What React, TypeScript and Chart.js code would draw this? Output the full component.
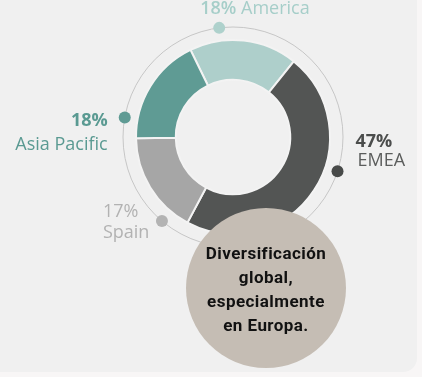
import React, { useEffect, useRef } from "react";
import { Chart, registerables } from "chart.js";

Chart.register(...registerables);

// ---- data ----
const regions = ["America", "EMEA", "Spain", "Asia Pacific"];
const shares = [18, 47, 17, 18];
const shareLabels = ["18%", "47%", "17%", "18%"];
const noteLines = ["Diversificación", "global,", "especialmente", "en Europa."];

// ---- styles / layout ----
const sliceColors = ["#aecfcb", "#535554", "#a6a6a6", "#5f9b94"];
const dotColors = ["#aed1cc", "#484a49", "#b3b3b3", "#5f9b94"];
const valueColors = ["#a6cec9", "#4b4d4c", "#b2b2b2", "#5a9a92"];
const nameColors = ["#a6cec9", "#5b5d5c", "#b2b2b2", "#5a9a92"];
const valueWeights = [600, 700, 400, 700];
type LabelPos = { frac: number; align: CanvasTextAlign; inline?: boolean; dx: number; vy: number; ndx: number; ny: number };
const labelLayout: LabelPos[] = [
  { frac: 0.29, align: "left", inline: true, dx: -19, vy: -14, ndx: -19, ny: -14 },
  { frac: 0.41, align: "left", dx: 18, vy: -24, ndx: 20, ny: -5 },
  { frac: 0.2, align: "left", dx: -59, vy: -4, ndx: -59, ny: 17 },
  { frac: 0.17, align: "right", dx: -17, vy: 9, ndx: -17, ny: 33 },
];
const RING_GAP = 13;
const FONT = '"Open Sans", "DejaVu Sans", sans-serif';

const ringPlugin = {
  id: "ringLabels",
  beforeDatasetsDraw(chart: any) {
    const el = chart.getDatasetMeta(0).data[0];
    if (!el) return;
    const { x, y, outerRadius } = el.getProps(["x", "y", "outerRadius"], true);
    const ctx = chart.ctx;
    ctx.save();
    ctx.beginPath();
    ctx.arc(x, y, outerRadius + RING_GAP, 0, Math.PI * 2);
    ctx.strokeStyle = "#c6c6c6";
    ctx.lineWidth = 1;
    ctx.stroke();
    ctx.restore();
  },
  afterDatasetsDraw(chart: any) {
    const ctx = chart.ctx;
    const meta = chart.getDatasetMeta(0);
    meta.data.forEach((el: any, i: number) => {
      const { x, y, startAngle, endAngle, outerRadius } = el.getProps(
        ["x", "y", "startAngle", "endAngle", "outerRadius"],
        true
      );
      const L = labelLayout[i];
      const r = outerRadius + RING_GAP;
      const a = startAngle + (endAngle - startAngle) * L.frac;
      const px = x + r * Math.cos(a);
      const py = y + r * Math.sin(a);
      ctx.save();
      ctx.beginPath();
      ctx.arc(px, py, 6, 0, Math.PI * 2);
      ctx.fillStyle = dotColors[i];
      ctx.fill();

      ctx.textBaseline = "alphabetic";
      const valueFont = `${valueWeights[i]} 18px ${FONT}`;
      const nameFont = `400 18px ${FONT}`;
      if (L.inline) {
        ctx.textAlign = "left";
        ctx.font = valueFont;
        ctx.fillStyle = valueColors[i];
        const vx = px + L.dx;
        ctx.fillText(shareLabels[i], vx, py + L.vy);
        const w = ctx.measureText(shareLabels[i] + " ").width;
        ctx.font = nameFont;
        ctx.fillStyle = nameColors[i];
        ctx.fillText(regions[i], vx + w, py + L.ny);
      } else {
        ctx.textAlign = L.align;
        ctx.font = valueFont;
        ctx.fillStyle = valueColors[i];
        ctx.fillText(shareLabels[i], px + L.dx, py + L.vy);
        ctx.font = nameFont;
        ctx.fillStyle = nameColors[i];
        ctx.fillText(regions[i], px + L.ndx, py + L.ny);
      }
      ctx.restore();
    });
  },
};

export default function App() {
  const canvasRef = useRef<HTMLCanvasElement | null>(null);

  useEffect(() => {
    const canvas = canvasRef.current;
    if (!canvas) return;
    const chart = new Chart(canvas, {
      type: "doughnut",
      data: {
        labels: regions,
        datasets: [
          {
            data: shares,
            backgroundColor: sliceColors,
            borderColor: "#f3f3f3",
            borderWidth: 2,
            hoverOffset: 0,
          },
        ],
      },
      options: {
        responsive: false,
        animation: false,
        events: [],
        rotation: -26,
        cutout: "59%",
        radius: 97,
        layout: { padding: { left: 136, right: 92, top: 40, bottom: 143 } },
        plugins: {
          legend: { display: false },
          tooltip: { enabled: false },
        },
      },
      plugins: [ringPlugin],
    });
    return () => chart.destroy();
  }, []);

  return (
    <div
      style={{
        position: "fixed",
        left: 0,
        top: 0,
        width: 422,
        height: 377,
        overflow: "hidden",
        background: "#f8f6f6",
      }}
    >
      <div
        style={{
          position: "absolute",
          left: -14,
          top: -14,
          width: 431,
          height: 386,
          borderRadius: 14,
          background: "#f0f0f0",
        }}
      />
      <canvas
        ref={canvasRef}
        width={422}
        height={377}
        style={{ position: "absolute", left: 0, top: 0, width: 422, height: 377 }}
      />
      <div
        style={{
          position: "absolute",
          left: 186,
          top: 208,
          width: 160,
          height: 160,
          borderRadius: "50%",
          background: "#c5bdb4",
          display: "flex",
          alignItems: "center",
          justifyContent: "center",
          flexDirection: "column",
          textAlign: "center",
          fontFamily: 'Roboto, "Open Sans", sans-serif',
          fontWeight: 700,
          fontSize: 17,
          letterSpacing: "0.45px",
          lineHeight: "24px",
          color: "#111111",
          paddingTop: 2,
          boxSizing: "border-box",
        }}
      >
        {noteLines.map((t, i) => (
          <div key={i}>{t}</div>
        ))}
      </div>
    </div>
  );
}
